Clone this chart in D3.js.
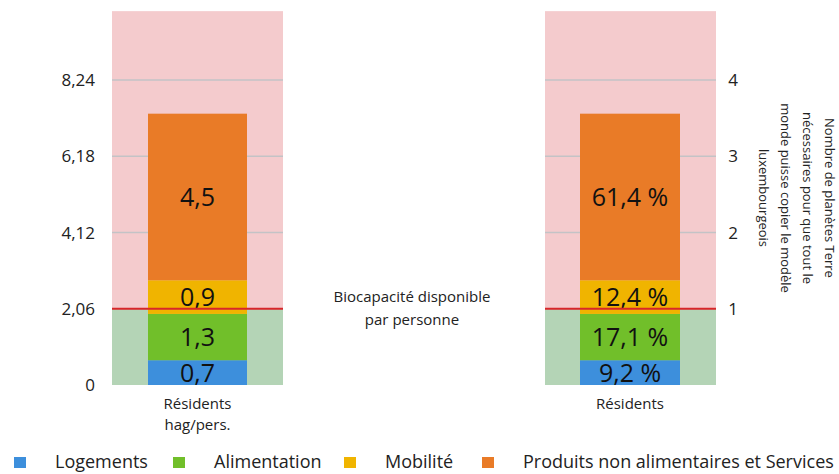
<!DOCTYPE html>
<html lang="fr">
<head>
<meta charset="UTF-8">
<script src="https://d3js.org/d3.v7.min.js"></script>
<style>
  body { margin: 0; background: #fff; }
  text { font-family: "Open Sans", "Noto Sans", sans-serif; fill: #222; }
</style>
</head>
<body>
<div id="container"></div>
<script>
    const width = 839, height = 474;

    // data
    const categories = ["Logements", "Alimentation", "Mobilité", "Produits non alimentaires et Services"];
    const colors = ["#3d8fdc", "#71bf2a", "#f0b400", "#e97b27"];
    const hagValues = [0.67, 1.25, 0.91, 4.5];
    const pctLabels = ["9,2 %", "17,1 %", "12,4 %", "61,4 %"];
    const hagLabels = ["0,7", "1,3", "0,9", "4,5"];
    const leftTicks = [0, 2.06, 4.12, 6.18, 8.24];
    const rightTicks = [1, 2, 3, 4];
    const biocap = 2.06;
    const yMax = 10.1;

    const svg = d3.select("#container")
        .append("svg")
        .attr("width", width)
        .attr("height", height);

    const y = d3.scaleLinear().domain([0, 8.24]).range([385, 80]);
    // planets scale (1 planet = biocapacité)
    const yP = d3.scaleLinear().domain([0, 8.24 / biocap]).range([385, 80]);

    const panels = [
        { x0: 112, x1: 283, bx0: 148, bx1: 247, labels: hagLabels, name: ["Résidents", "hag/pers."] },
        { x0: 545, x1: 716, bx0: 580, bx1: 680, labels: pctLabels, name: ["Résidents"] }
    ];

    panels.forEach(p => {
        const g = svg.append("g");
        // pink zone (above biocapacity)
        g.append("rect")
            .attr("x", p.x0).attr("width", p.x1 - p.x0)
            .attr("y", y(yMax)).attr("height", y(biocap) - y(yMax))
            .attr("fill", "#f4cbcd");
        // green zone
        g.append("rect")
            .attr("x", p.x0).attr("width", p.x1 - p.x0)
            .attr("y", y(biocap)).attr("height", y(0) - y(biocap))
            .attr("fill", "#b4d4b6");
        // gridlines
        g.selectAll("line.grid")
            .data(leftTicks.filter(d => d > biocap))
            .enter()
            .append("line")
            .attr("x1", p.x0).attr("x2", p.x1)
            .attr("y1", d => y(d)).attr("y2", d => y(d))
            .attr("stroke", "#c3c3c6")
            .attr("stroke-width", 1.5);

        // stacked bar
        let acc = 0;
        const stack = hagValues.map((v, i) => {
            const s = { y0: acc, y1: acc + v, i: i };
            acc += v;
            return s;
        });
        g.selectAll("rect.seg")
            .data(stack)
            .enter()
            .append("rect")
            .attr("x", p.bx0).attr("width", p.bx1 - p.bx0)
            .attr("y", d => y(d.y1))
            .attr("height", d => y(d.y0) - y(d.y1))
            .attr("fill", d => colors[d.i]);
        g.selectAll("text.seg")
            .data(stack)
            .enter()
            .append("text")
            .attr("x", (p.bx0 + p.bx1) / 2)
            .attr("y", d => (y(d.y0) + y(d.y1)) / 2 + 9)
            .attr("text-anchor", "middle")
            .attr("font-size", 25)
            .style("fill", "#111")
            .text(d => p.labels[d.i]);

        // biocapacity line
        g.append("line")
            .attr("x1", p.x0).attr("x2", p.x1)
            .attr("y1", y(biocap)).attr("y2", y(biocap))
            .attr("stroke", "#d8262a")
            .attr("stroke-width", 2);

        // category label, one text per line
        g.selectAll("text.cat")
            .data(p.name)
            .enter()
            .append("text")
            .attr("x", (p.bx0 + p.bx1) / 2)
            .attr("y", (d, i) => 409 + i * 21)
            .attr("text-anchor", "middle")
            .attr("font-size", 15)
            .text(d => d);
    });

    // left axis labels
    svg.append("g")
        .selectAll("text")
        .data(leftTicks)
        .enter()
        .append("text")
        .attr("x", 95)
        .attr("y", d => y(d) + 6)
        .attr("text-anchor", "end")
        .attr("font-size", 17)
        .text(d => d3.format(".2f")(d).replace(".", ",").replace("0,00", "0"));

    // right axis labels
    svg.append("g")
        .selectAll("text")
        .data(rightTicks)
        .enter()
        .append("text")
        .attr("x", 733)
        .attr("y", d => yP(d) + 6)
        .attr("text-anchor", "middle")
        .attr("font-size", 17)
        .text(d => d);

    // right axis title (rotated)
    const titleLines = ["Nombre de planètes Terre", "nécessaires pour que tout le", "monde puisse copier le modèle", "luxembourgeois"];
    svg.append("text")
        .attr("transform", "translate(825,198) rotate(90)")
        .attr("text-anchor", "middle")
        .attr("font-size", 13)
        .selectAll("tspan")
        .data(titleLines)
        .enter()
        .append("tspan")
        .attr("x", 0)
        .attr("dy", (d, i) => i ? 22 : 0)
        .text(d => d);

    // biocapacity annotation
    svg.append("text")
        .attr("text-anchor", "middle")
        .attr("font-size", 15)
        .attr("y", 302)
        .selectAll("tspan")
        .data(["Biocapacité disponible", "par personne"])
        .enter()
        .append("tspan")
        .attr("x", 412)
        .attr("dy", (d, i) => i ? 23 : 0)
        .text(d => d);

    // legend
    const squareX = [14, 173, 344, 482];
    const textX = [55, 214, 385, 523];
    const leg = svg.append("g")
        .selectAll("g")
        .data(categories)
        .enter()
        .append("g");
    leg.append("rect")
        .attr("x", (d, i) => squareX[i])
        .attr("y", 457)
        .attr("width", 12).attr("height", 11)
        .attr("fill", (d, i) => colors[i]);
    leg.append("text")
        .attr("x", (d, i) => textX[i])
        .attr("y", 468)
        .attr("font-size", 18)
        .text(d => d);
</script>
</body>
</html>
